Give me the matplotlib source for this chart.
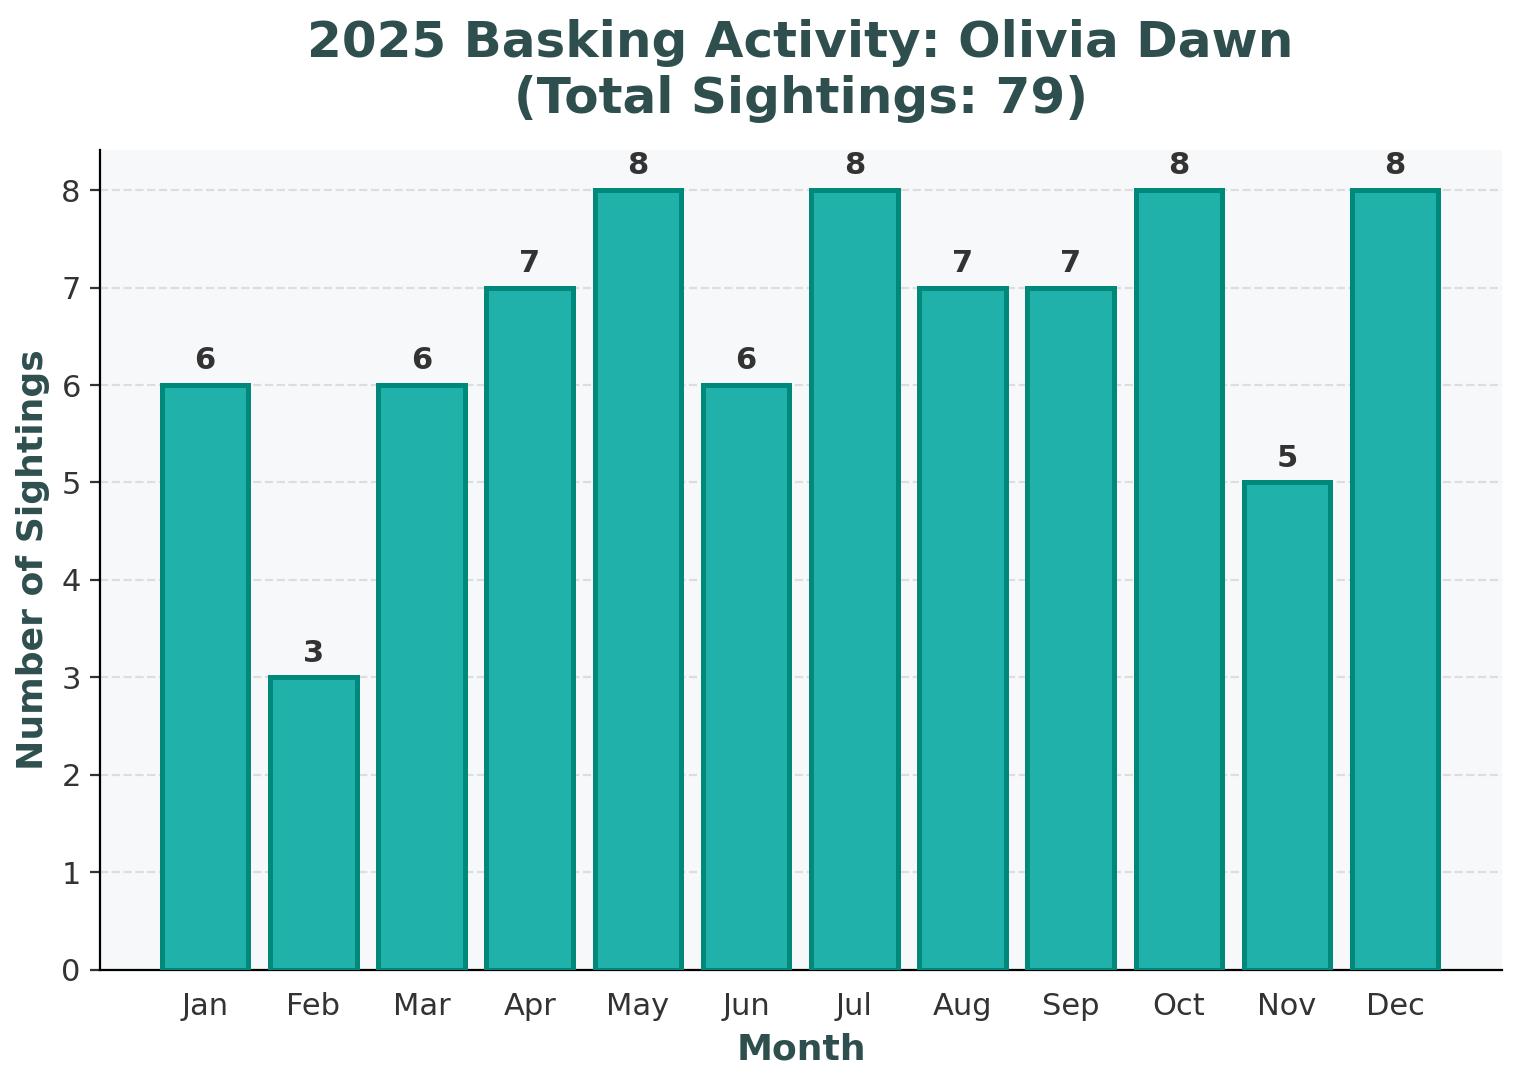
import matplotlib
matplotlib.use("Agg")
import matplotlib.pyplot as plt

months = ['Jan', 'Feb', 'Mar', 'Apr', 'May', 'Jun', 'Jul', 'Aug', 'Sep', 'Oct', 'Nov', 'Dec']
sightings = [6, 3, 6, 7, 8, 6, 8, 7, 7, 8, 5, 8]

title_col = '#2f4f4f'

fig = plt.figure(figsize=(7.595, 5.4), dpi=200)
ax = fig.add_axes([0.066, 0.102, 0.923, 0.759])
ax.set_facecolor('#f7f8fa')

x = list(range(len(months)))
bars = ax.bar(x, sightings, width=0.8, color='#20b2aa', edgecolor='#00897b', linewidth=1.8, zorder=3)

for b, v in zip(bars, sightings):
    ax.text(b.get_x() + b.get_width() / 2, v + 0.1, str(v), ha='center', va='bottom',
            fontsize=11, fontweight='bold', color='#333333')

ax.set_xticks(x)
ax.set_xticklabels(months)
ax.set_xlim(-0.97, 11.99)
ax.set_ylim(0, 8.41)
ax.tick_params(labelsize=11, colors='#333333')
ax.tick_params(axis='x', length=0, pad=8)
ax.grid(axis='y', linestyle='--', color='#dddddd', linewidth=0.8, zorder=0)
ax.spines['top'].set_visible(False)
ax.spines['right'].set_visible(False)

ax.set_xlabel('Month', fontsize=13, fontweight='bold', color=title_col, labelpad=4)
ax.set_ylabel('Number of Sightings', fontsize=13, fontweight='bold', color=title_col)
fig.suptitle('2025 Basking Activity: Olivia Dawn\n(Total Sightings: %d)' % sum(sightings),
             fontsize=18, fontweight='bold', color=title_col, x=0.527, y=0.982, linespacing=1.2)

fig.savefig('out.png')
